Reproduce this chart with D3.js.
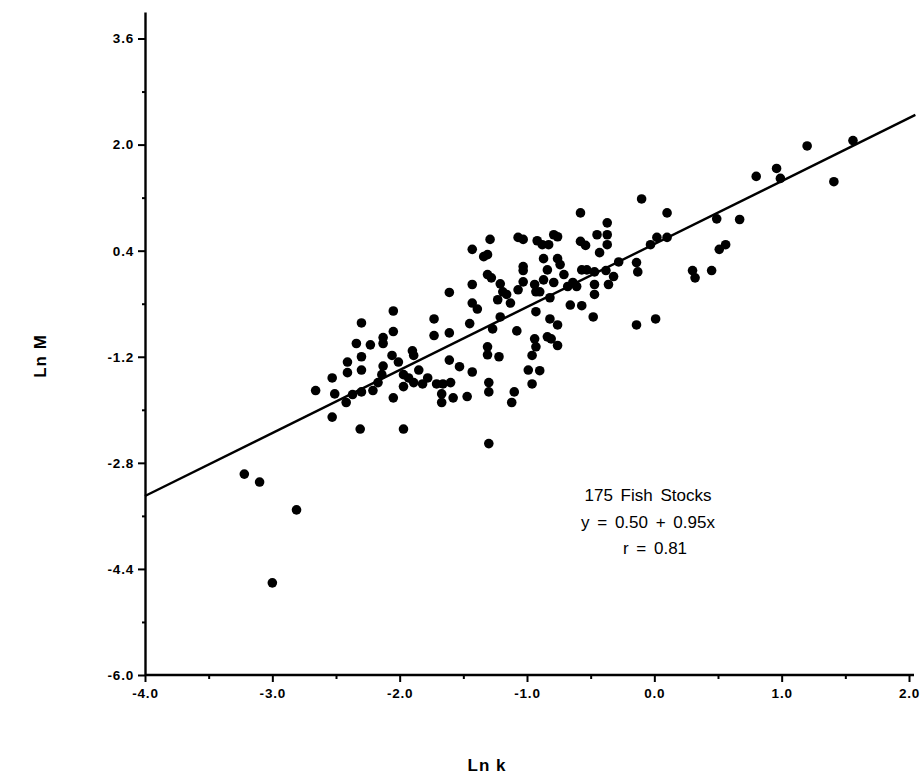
<!DOCTYPE html>
<html>
<head>
<meta charset="utf-8">
<script src="https://cdn.jsdelivr.net/npm/d3@7"></script>
<style>
  body { margin: 0; background: #fff; }
  .axisTitle { font-family: "Liberation Sans", Arial, sans-serif; font-weight: bold; font-size: 17px; letter-spacing: 1px; }
  .note { font-family: "Liberation Sans", Arial, sans-serif; font-size: 17px; word-spacing: 3px; }
</style>
</head>
<body>
<div id="scatter"></div>
<script>
// Ln k (x) and Ln M (y) for each stock
var lnK = [
  -1.61,-1.43,-1.39,-2.05,-2.30,-1.73,-1.45,-1.27,-2.05,-1.73,-1.61,-2.34,-2.23,-2.13,-2.13,-2.30,-2.06,-2.01,-1.90,-1.89,
  -2.41,-2.41,-2.30,-2.13,-1.61,-1.53,-1.43,-1.31,-1.31,-2.53,-2.66,-2.51,-2.37,-2.30,-2.21,-2.17,-2.14,-1.97,-1.93,-1.85,
  -1.97,-1.89,-1.82,-1.78,-1.71,-1.66,-1.60,-1.67,-1.67,-1.58,-1.47,-1.30,-1.30,-2.42,-2.05,-2.53,-2.31,-1.97,-1.30,
  -0.37,-0.37,-0.37,-1.29,-1.07,-1.03,-0.92,-0.88,-0.83,-0.79,-0.76,-0.58,-0.54,-0.45,-0.43,-1.43,-1.34,-1.31,-1.03,-1.03,
  -0.87,-0.76,-0.74,-0.84,-0.71,-0.57,-0.53,-0.47,-0.38,-0.28,-0.14,-0.13,-0.32,-0.36,-1.31,-1.28,-1.03,-0.87,-0.79,-0.68,
  -0.64,-0.61,-0.47,-0.47,-1.43,-1.21,-1.19,-1.16,-1.13,-1.07,-0.94,-0.93,-0.90,-0.82,-1.23,-0.66,-0.57,-0.93,-0.48,-0.14,
  -1.21,-0.82,-0.76,-1.08,-0.84,-0.81,-0.94,-0.93,-0.96,-0.76,-1.22,-0.99,-0.90,-0.96,-1.10,
  -0.10,-0.58,0.10,0.49,0.67,0.02,0.10,-0.03,0.56,0.51,0.30,0.32,0.45,0.01,1.20,1.56,0.80,0.96,0.99,1.41,
  -3.22,-3.10,-2.81,-3.00,-1.12
];
var lnM = [
  -0.23,-0.39,-0.48,-0.51,-0.69,-0.63,-0.70,-0.78,-0.82,-0.88,-0.84,-1.00,-1.02,-0.91,-1.00,-1.20,-1.18,-1.28,-1.11,-1.18,
  -1.28,-1.44,-1.40,-1.34,-1.25,-1.35,-1.43,-1.05,-1.17,-1.52,-1.71,-1.76,-1.77,-1.73,-1.71,-1.59,-1.47,-1.47,-1.52,-1.40,
  -1.65,-1.59,-1.61,-1.52,-1.61,-1.61,-1.59,-1.76,-1.89,-1.82,-1.80,-1.59,-1.73,-1.89,-1.82,-2.11,-2.29,-2.29,-2.51,
  0.82,0.64,0.49,0.57,0.60,0.57,0.55,0.49,0.49,0.64,0.61,0.54,0.48,0.64,0.37,0.42,0.31,0.34,0.16,0.10,
  0.28,0.28,0.19,0.11,0.04,0.11,0.11,0.08,0.10,0.23,0.22,0.08,0.01,-0.11,0.04,-0.01,-0.07,-0.04,-0.08,-0.14,
  -0.08,-0.14,-0.11,-0.26,-0.11,-0.10,-0.22,-0.26,-0.39,-0.19,-0.11,-0.22,-0.22,-0.31,-0.34,-0.42,-0.43,-0.52,-0.60,-0.72,
  -0.60,-0.63,-0.72,-0.81,-0.90,-0.93,-0.93,-1.05,-1.18,-1.03,-1.20,-1.40,-1.41,-1.61,-1.73,
  1.18,0.97,0.97,0.88,0.87,0.60,0.60,0.49,0.49,0.42,0.10,-0.01,0.10,-0.63,1.98,2.06,1.52,1.64,1.49,1.44,
  -2.97,-3.09,-3.51,-4.61,-1.89
];

var xTicks = [-4, -3, -2, -1, 0, 1, 2];
var xMinorTicks = [-3.5, -2.5, -1.5, -0.5, 0.5, 1.5];
var yTicks = [-6.0, -4.4, -2.8, -1.2, 0.4, 2.0, 3.6];
var yMinorTicks = [-5.2, -3.6, -2.0, -0.4, 1.2, 2.8];

// fitted line y = a + b x
var fitIntercept = 0.50;
var fitSlope = 0.95;
var fitRange = [-4, 2.05];
var noteLines = ["175  Fish  Stocks", "y = 0.50 + 0.95x", "r = 0.81"];

var svgWidth = 920;
var svgHeight = 777;

var margin = { top: 12, right: 11, bottom: 102, left: 145 };
var width = 764;
var height = svgHeight - margin.top - margin.bottom;

var svg = d3.select("#scatter")
  .append("svg")
  .attr("width", svgWidth)
  .attr("height", svgHeight);

var chartGroup = svg.append("g")
  .attr("transform", `translate(${margin.left}, ${margin.top})`);

var xLinearScale = d3.scaleLinear().domain([-4, 2]).range([0, width]);
var yLinearScale = d3.scaleLinear().domain([-6, 4]).range([height, 0]);

var fmt = d => d.toFixed(1);

// minor ticks first, under the main axes
chartGroup.append("g")
  .attr("transform", `translate(0, ${height})`)
  .call(d3.axisBottom(xLinearScale).tickValues(xMinorTicks).tickSize(4).tickFormat(""))
  .call(g => g.select(".domain").remove());

chartGroup.append("g")
  .call(d3.axisLeft(yLinearScale).tickValues(yMinorTicks).tickSize(3).tickFormat(""))
  .call(g => g.select(".domain").remove());

var bottomAxis = d3.axisBottom(xLinearScale).tickValues(xTicks).tickFormat(fmt).tickSize(7).tickSizeOuter(0).tickPadding(6);
var leftAxis = d3.axisLeft(yLinearScale).tickValues(yTicks).tickFormat(fmt).tickSize(7).tickSizeOuter(0).tickPadding(4);

var xAxisG = chartGroup.append("g")
  .attr("transform", `translate(0, ${height})`)
  .call(bottomAxis);

var yAxisG = chartGroup.append("g")
  .call(leftAxis);

// x axis runs a little past 2.0
xAxisG.select(".domain").attr("d", `M0,0H${width + 5}`);

svg.selectAll(".domain").attr("stroke", "#000").attr("stroke-width", 2.4);
svg.selectAll(".tick line").attr("stroke", "#000").attr("stroke-width", 2);
svg.selectAll(".tick text")
  .attr("fill", "#000")
  .attr("font-family", "'Liberation Sans', Arial, sans-serif")
  .attr("font-weight", "bold")
  .attr("font-size", 13.5)
  .attr("letter-spacing", 0.8);

// regression line
chartGroup.append("line")
  .attr("x1", xLinearScale(fitRange[0]))
  .attr("y1", yLinearScale(fitIntercept + fitSlope * fitRange[0]))
  .attr("x2", xLinearScale(fitRange[1]))
  .attr("y2", yLinearScale(fitIntercept + fitSlope * fitRange[1]))
  .attr("stroke", "#000")
  .attr("stroke-width", 2.4);

// points
var stocks = d3.zip(lnK, lnM);

chartGroup.selectAll("circle")
  .data(stocks)
  .enter()
  .append("circle")
  .attr("cx", d => xLinearScale(d[0]))
  .attr("cy", d => yLinearScale(d[1]))
  .attr("r", 4.8)
  .attr("fill", "#000");

// annotation
chartGroup.selectAll("text.note")
  .data(noteLines)
  .enter()
  .append("text")
  .attr("class", "note")
  .attr("x", (d, i) => i == 2 ? 510 : 503)
  .attr("y", (d, i) => 489 + i * 26.5)
  .attr("text-anchor", "middle")
  .text(d => d);

// axis titles
svg.append("text")
  .attr("class", "axisTitle")
  .attr("transform", "translate(46, 356) rotate(-90)")
  .attr("text-anchor", "middle")
  .text("Ln M");

svg.append("text")
  .attr("class", "axisTitle")
  .attr("x", 487)
  .attr("y", 771)
  .attr("text-anchor", "middle")
  .text("Ln k");
</script>
</body>
</html>
